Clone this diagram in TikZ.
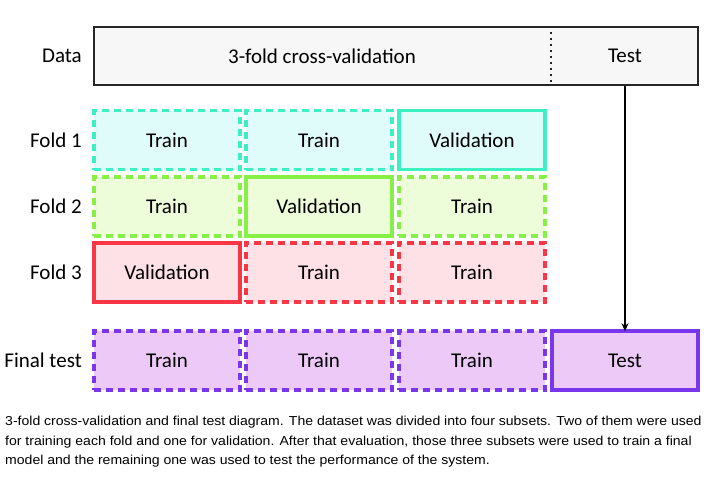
\documentclass[tikz,border=0pt]{standalone}
\usepackage{fontspec}
\setmainfont{Carlito}
\newfontfamily\capfont[FakeStretch=1.08]{Liberation Sans}
\usetikzlibrary{arrows.meta}
\definecolor{tealline}{HTML}{3CF0C4}
\definecolor{tealfill}{HTML}{E0FCFA}
\definecolor{greenline}{HTML}{86F046}
\definecolor{greenfill}{HTML}{EDFCD9}
\definecolor{redline}{HTML}{F83646}
\definecolor{redfill}{HTML}{FDE1E7}
\definecolor{purpleline}{HTML}{7A36EC}
\definecolor{purplefill}{HTML}{EDC9F8}
\tikzset{
  cell/.style={minimum width=146pt, minimum height=59pt, inner sep=0pt,
    font=\fontsize{21}{25}\selectfont},
  trainbox/.style={cell, line width=3.2pt, dash pattern=on 7pt off 5pt},
  valbox/.style={cell, line width=3.5pt},
  rowlabel/.style={anchor=east, inner sep=0pt, font=\fontsize{21}{25}\selectfont},
}
\begin{document}
\begin{tikzpicture}[x=1pt,y=-1pt]
\useasboundingbox (0,0) rectangle (704,477);
% data split
\node[draw=black!85, line width=1.3pt, fill=black!3, minimum width=604pt,
  minimum height=58pt] (data) at (396,56) {};
\node[font=\fontsize{21}{25}\selectfont] (dcv) at (322,56) {3-fold cross-validation};
\node[font=\fontsize{21}{25}\selectfont] (dtest) at (625,56) {Test};
\coordinate (cut) at (551,56);
\draw[black!85, line width=2pt, dash pattern=on 2pt off 4pt] (cut |- data.north) -- (cut |- data.south);
\node[rowlabel] (ldata) at (82,56) {Data};
% fold 1
\node[rowlabel] (lf1) at (82,140) {Fold 1};
\node[trainbox, draw=tealline, fill=tealfill] (f1a) at (167,140) {Train};
\node[trainbox, draw=tealline, fill=tealfill] (f1b) at (319,140) {Train};
\node[valbox, draw=tealline, fill=tealfill] (f1c) at (472,140) {Validation};
% fold 2
\node[rowlabel] (lf2) at (82,206.5) {Fold 2};
\node[trainbox, draw=greenline, fill=greenfill] (f2a) at (167,206.5) {Train};
\node[valbox, draw=greenline, fill=greenfill] (f2b) at (319,206.5) {Validation};
\node[trainbox, draw=greenline, fill=greenfill] (f2c) at (472,206.5) {Train};
% fold 3
\node[rowlabel] (lf3) at (82,272.5) {Fold 3};
\node[valbox, draw=redline, fill=redfill] (f3a) at (167,272.5) {Validation};
\node[trainbox, draw=redline, fill=redfill] (f3b) at (319,272.5) {Train};
\node[trainbox, draw=redline, fill=redfill] (f3c) at (472,272.5) {Train};
% final test
\node[rowlabel] (lfin) at (82,360.5) {Final test};
\node[trainbox, draw=purpleline, fill=purplefill] (fa) at (167,360.5) {Train};
\node[trainbox, draw=purpleline, fill=purplefill] (fb) at (319,360.5) {Train};
\node[trainbox, draw=purpleline, fill=purplefill] (fc) at (472,360.5) {Train};
\node[valbox, draw=purpleline, fill=purplefill] (ftest) at (625,360.5) {Test};
\draw[line width=1.2pt, -{Stealth[length=8pt, width=7pt]}] (dtest |- data.south) -- ([yshift=-2pt]ftest.north);
% caption
\node[anchor=north west, inner sep=0pt, align=left,
  font=\capfont\fontsize{13}{19.5}\selectfont] (caption) at (5,416)
  {3-fold cross-validation and final test diagram. The dataset was divided into four subsets. Two of them were used\\
   for training each fold and one for validation. After that evaluation, those three subsets were used to train a final\\
   model and the remaining one was used to test the performance of the system.};
\end{tikzpicture}
\end{document}
